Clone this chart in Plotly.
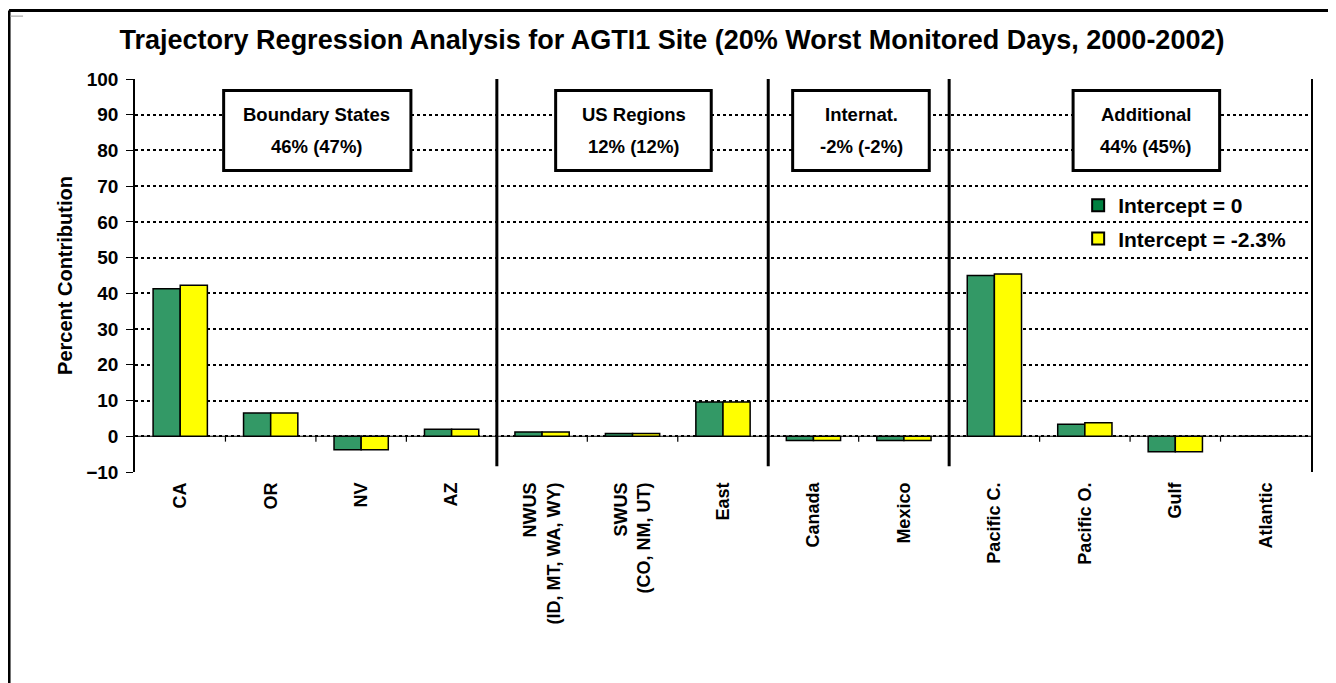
import plotly.graph_objects as go

categories = ["CA", "OR", "NV", "AZ", "NWUS<br>(ID, MT, WA, WY)", "SWUS<br>(CO, NM, UT)",
              "East", "Canada", "Mexico", "Pacific C.", "Pacific O.", "Gulf", "Atlantic"]
intercept_zero = [41.3, 6.5, -3.8, 2.0, 1.2, 0.8, 9.6, -1.2, -1.2, 45.0, 3.4, -4.3, 0.0]
intercept_neg = [42.3, 6.5, -3.8, 2.0, 1.2, 0.8, 9.6, -1.2, -1.2, 45.4, 3.8, -4.3, 0.0]
series_names = ["Intercept = 0", "Intercept = -2.3%"]

group_titles = ["Boundary States", "US Regions", "Internat.", "Additional"]
group_values = ["46% (47%)", "12% (12%)", "-2% (-2%)", "44% (45%)"]
separators = [3.5, 6.5, 8.5]

FONT = "Arial, Liberation Sans, sans-serif"
GREEN = "#339966"
YELLOW = "#FFFF00"

fig = go.Figure()
xs = list(range(len(categories)))
fig.add_trace(go.Bar(x=xs, y=intercept_zero, name=series_names[0],
                     marker=dict(color=GREEN, line=dict(color="black", width=1.5)),
                     showlegend=False))
fig.add_trace(go.Bar(x=xs, y=intercept_neg, name=series_names[1],
                     marker=dict(color=YELLOW, line=dict(color="black", width=1.5)),
                     showlegend=False))
# legend entries
for nm, col, grp in [(series_names[0], "#008040", "a"), (series_names[1], YELLOW, "b")]:
    fig.add_trace(go.Scatter(x=[None], y=[None], mode="markers", name="<b>" + nm + "</b>",
                             legendgroup=grp,
                             marker=dict(symbol="square", size=15, color=col,
                                         line=dict(color="black", width=2.5))))

shapes = []
# separators
for s in separators:
    shapes.append(dict(type="line", xref="x", yref="y", x0=s, x1=s, y0=100, y1=-8.4,
                       line=dict(color="black", width=3)))
# tick marks on zero line
for i in range(len(categories) - 1):
    shapes.append(dict(type="line", xref="x", yref="y", x0=i + 0.5, x1=i + 0.5, y0=0, y1=-1.5,
                       line=dict(color="black", width=1.2)))
# zero line
shapes.append(dict(type="line", xref="paper", yref="y", x0=0, x1=1, y0=0, y1=0,
                   line=dict(color="black", width=1.2), layer="below"))
# group boxes
box_x = [(0.48, 2.55), (4.15, 5.87), (6.77, 8.28), (9.87, 11.49)]
text_x = [1.51, 5.02, 7.53, 10.68]
annotations = []
for (x0, x1), tx, t1, t2 in zip(box_x, text_x, group_titles, group_values):
    shapes.append(dict(type="rect", xref="x", yref="y", x0=x0, x1=x1, y0=74.4, y1=96.8,
                       fillcolor="white", line=dict(color="black", width=3)))
    annotations.append(dict(x=tx, y=90.0, xref="x", yref="y", text="<b>" + t1 + "</b>",
                            showarrow=False, font=dict(size=18.5, family=FONT, color="black")))
    annotations.append(dict(x=tx, y=81.0, xref="x", yref="y", text="<b>" + t2 + "</b>",
                            showarrow=False, font=dict(size=18.5, family=FONT, color="black")))
# outer frame
shapes.append(dict(type="line", xref="paper", yref="paper", x0=-0.1071, x1=1.2, y0=1.1743, y1=1.1743,
                   line=dict(color="black", width=3)))
shapes.append(dict(type="line", xref="paper", yref="paper", x0=-0.1071, x1=-0.1071, y0=1.1743, y1=-0.6,
                   line=dict(color="black", width=3)))
shapes.append(dict(type="line", xref="paper", yref="paper", x0=-0.1063, x1=-0.0952, y0=1.160, y1=1.160,
                   line=dict(color="#999999", width=1)))

fig.update_layout(
    width=1328, height=675,
    margin=dict(l=127, r=25, t=71, b=211),
    paper_bgcolor="white", plot_bgcolor="white",
    font=dict(family=FONT, color="black"),
    barmode="group", bargap=0.40, bargroupgap=0.0,
    title=dict(text="<b>Trajectory Regression Analysis for AGTI1 Site (20% Worst Monitored Days, 2000-2002)</b>",
               x=0.5, xanchor="center", y=0.9526, yanchor="middle", xref="container", yref="container",
               font=dict(size=27, family=FONT, color="black")),
    xaxis=dict(range=[-0.5, len(categories) - 0.5], tickmode="array",
               tickvals=xs, ticktext=["<b>" + c + "</b>" for c in categories],
               tickangle=-90, tickfont=dict(size=18, family=FONT, color="black"),
               ticklabelstandoff=6,
               showgrid=False, zeroline=False, showline=False, ticks=""),
    yaxis=dict(range=[-10, 100], dtick=10, tickfont=dict(size=19, family=FONT, color="black"),
               tickprefix="<b>", ticksuffix="</b>",
               showgrid=True, gridcolor="black", gridwidth=1.5, griddash="dot",
               zeroline=False, showline=True, linecolor="black", linewidth=1.5, mirror=True,
               ticks="outside", ticklen=7, tickcolor="black", tickwidth=1.2, ticklabelstandoff=4,
               title=dict(text="<b>Percent Contribution</b>", font=dict(size=20, family=FONT, color="black"),
                          standoff=8)),
    legend=dict(x=0.802, y=0.730, xanchor="left", yanchor="top", bgcolor="rgba(255,255,255,0)",
                font=dict(size=21, family=FONT, color="black"), tracegroupgap=3,
                itemsizing="constant"),
    shapes=shapes, annotations=annotations,
)

fig.write_html("out.html")
